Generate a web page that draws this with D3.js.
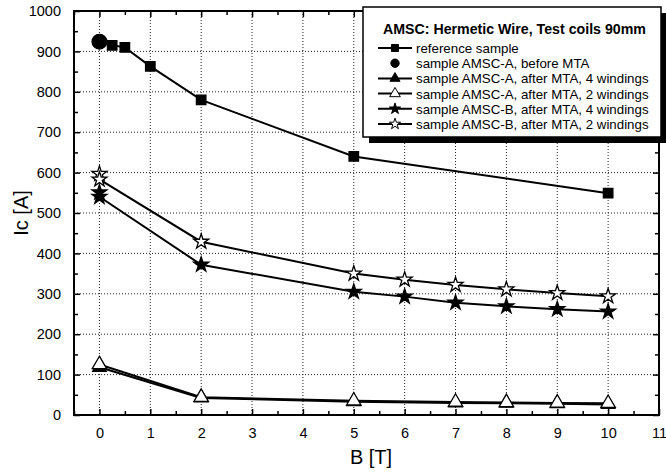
<!DOCTYPE html>
<html>
<head>
<meta charset="utf-8">
<script src="https://cdn.jsdelivr.net/npm/d3@7"></script>
<style>
  body { margin: 0; background: #fff; }
  text { font-family: "Liberation Sans", Arial, sans-serif; }
</style>
</head>
<body>
<div id="chart"></div>
<script>
// data
const xTicks = [0, 1, 2, 3, 4, 5, 6, 7, 8, 9, 10, 11];
const yTicks = [0, 100, 200, 300, 400, 500, 600, 700, 800, 900, 1000];

const refB = [0.25, 0.5, 1, 2, 5, 10];
const refIc = [915, 910, 863, 780, 640, 549];

const beforeB = [0];
const beforeIc = [924];

const a4B = [0, 2, 5, 7, 8, 9, 10];
const a4Ic = [118, 42, 33, 30, 29, 28, 26];

const a2B = [0, 2, 5, 7, 8, 9, 10];
const a2Ic = [125, 44, 35, 32, 31, 30, 29];

const b4B = [0, 0, 2, 5, 6, 7, 8, 9, 10];
const b4Ic = [551, 540, 372, 305, 293, 278, 269, 262, 256];

const b2B = [0, 0, 2, 5, 6, 7, 8, 9, 10];
const b2Ic = [597, 583, 429, 350, 335, 322, 311, 302, 294];

const seriesNames = [
    'reference sample',
    'sample AMSC-A, before MTA',
    'sample AMSC-A, after MTA, 4 windings',
    'sample AMSC-A, after MTA, 2 windings',
    'sample AMSC-B, after MTA, 4 windings',
    'sample AMSC-B, after MTA, 2 windings'
];
const legendTitle = 'AMSC: Hermetic Wire, Test coils 90mm';

const W = 666, H = 474;
const plot = {left: 74, right: 659, top: 11, bottom: 415};

const svg = d3.select('#chart').append('svg')
    .attr('width', W)
    .attr('height', H);

const x = d3.scaleLinear().domain([-0.5, 11]).range([plot.left, plot.right]);
const y = d3.scaleLinear().domain([0, 1000]).range([plot.bottom, plot.top]);

const zip = (xs, ys) => xs.map((v, i) => ({b: v, ic: ys[i]}));

// marker styles per series
const series = [
    {data: zip(refB, refIc), sym: d3.symbolSquare, size: 90, fill: '#000', line: true},
    {data: zip(beforeB, beforeIc), sym: d3.symbolCircle, size: 170, fill: '#000', line: false},
    {data: zip(a4B, a4Ic), sym: d3.symbolTriangle, size: 80, fill: '#000', line: true},
    {data: zip(a2B, a2Ic), sym: d3.symbolTriangle, size: 90, fill: '#fff', line: true},
    {data: zip(b4B, b4Ic), sym: d3.symbolStar, size: 70, fill: '#000', line: true},
    {data: zip(b2B, b2Ic), sym: d3.symbolStar, size: 70, fill: '#fff', line: true}
];

// grid
const grid = svg.append('g');
grid.selectAll('.vg')
    .data(xTicks.filter(d => d >= 0 && d <= 10))
    .enter().append('line')
    .attr('x1', d => x(d)).attr('x2', d => x(d))
    .attr('y1', plot.top).attr('y2', plot.bottom)
    .attr('stroke', '#222').attr('stroke-width', 1)
    .attr('stroke-dasharray', '1,2');
grid.selectAll('.hg')
    .data(yTicks.filter(d => d > 0 && d < 1000))
    .enter().append('line')
    .attr('x1', plot.left).attr('x2', plot.right)
    .attr('y1', d => y(d)).attr('y2', d => y(d))
    .attr('stroke', '#222').attr('stroke-width', 1)
    .attr('stroke-dasharray', '1,2');

// axes, ticks pointing inward on all four sides
const minorX = d3.range(-0.5, 11.01, 0.5).filter(d => d % 1 !== 0);
const minorY = d3.range(50, 1000, 100);

function addTicks(axis, ticks, len, labels) {
    const g = svg.append('g')
        .attr('transform', axis.transform)
        .call(axis.gen(axis.scale).tickValues(ticks).tickSize(-len).tickPadding(len + 7)
            .tickFormat(labels ? d3.format('d') : ''));
    g.select('.domain').remove();
    g.selectAll('line').attr('stroke', '#000').attr('stroke-width', 1.5);
    g.selectAll('text').attr('font-size', 14.5).attr('fill', '#000');
    return g;
}

addTicks({gen: d3.axisBottom, scale: x, transform: `translate(0,${plot.bottom})`}, xTicks, 6, true);
addTicks({gen: d3.axisBottom, scale: x, transform: `translate(0,${plot.bottom})`}, minorX, 4, false);
addTicks({gen: d3.axisTop, scale: x, transform: `translate(0,${plot.top})`}, xTicks, 6, false);
addTicks({gen: d3.axisTop, scale: x, transform: `translate(0,${plot.top})`}, minorX, 4, false);
addTicks({gen: d3.axisLeft, scale: y, transform: `translate(${plot.left},0)`}, yTicks, 6, true);
addTicks({gen: d3.axisLeft, scale: y, transform: `translate(${plot.left},0)`}, minorY, 4, false);
addTicks({gen: d3.axisRight, scale: y, transform: `translate(${plot.right},0)`}, yTicks, 6, false);
addTicks({gen: d3.axisRight, scale: y, transform: `translate(${plot.right},0)`}, minorY, 4, false);

// frame
svg.append('rect')
    .attr('x', plot.left).attr('y', plot.top)
    .attr('width', plot.right - plot.left).attr('height', plot.bottom - plot.top)
    .attr('fill', 'none').attr('stroke', '#000').attr('stroke-width', 2);

// lines
const line = d3.line().x(d => x(d.b)).y(d => y(d.ic));
series.filter(s => s.line).forEach(s => {
    svg.append('path')
        .attr('d', line(s.data))
        .attr('fill', 'none')
        .attr('stroke', '#000')
        .attr('stroke-width', 2);
});

// markers
series.forEach(s => {
    svg.append('g').selectAll('path')
        .data(s.data)
        .enter().append('path')
        .attr('transform', d => `translate(${x(d.b)},${y(d.ic)})`)
        .attr('d', d3.symbol().type(s.sym).size(s.size))
        .attr('fill', s.fill)
        .attr('stroke', '#000')
        .attr('stroke-width', 1.3);
});

// axis titles
svg.append('text')
    .attr('x', 371).attr('y', 464)
    .attr('text-anchor', 'middle')
    .attr('font-size', 20)
    .text('B [T]');

svg.append('text')
    .attr('transform', 'rotate(-90)')
    .attr('x', -213).attr('y', 28)
    .attr('text-anchor', 'middle')
    .attr('font-size', 20)
    .text('Ic [A]');

// legend with shadow
const lg = svg.append('g');
lg.append('rect')
    .attr('x', 369).attr('y', 13)
    .attr('width', 298).attr('height', 130)
    .attr('fill', '#000');
lg.append('rect')
    .attr('x', 363).attr('y', 7)
    .attr('width', 298).attr('height', 130)
    .attr('fill', '#fff').attr('stroke', '#000').attr('stroke-width', 1.5);
lg.append('text')
    .attr('x', 383).attr('y', 34)
    .attr('font-size', 14.2)
    .attr('font-weight', 'bold')
    .text(legendTitle);

const items = lg.selectAll('.item')
    .data(series)
    .enter().append('g')
    .attr('transform', (d, i) => `translate(0,${48 + i * 15.2})`);

items.filter(d => d.line).append('line')
    .attr('x1', 378).attr('x2', 412)
    .attr('stroke', '#000').attr('stroke-width', 2);
items.append('path')
    .attr('transform', 'translate(395,0)')
    .attr('d', d => d3.symbol().type(d.sym).size(d.sym === d3.symbolCircle ? 55 : d.size * 0.55)())
    .attr('fill', d => d.fill)
    .attr('stroke', '#000')
    .attr('stroke-width', 1);
items.append('text')
    .attr('x', 416).attr('y', 5)
    .attr('font-size', 13.3)
    .text((d, i) => seriesNames[i]);
</script>
</body>
</html>
